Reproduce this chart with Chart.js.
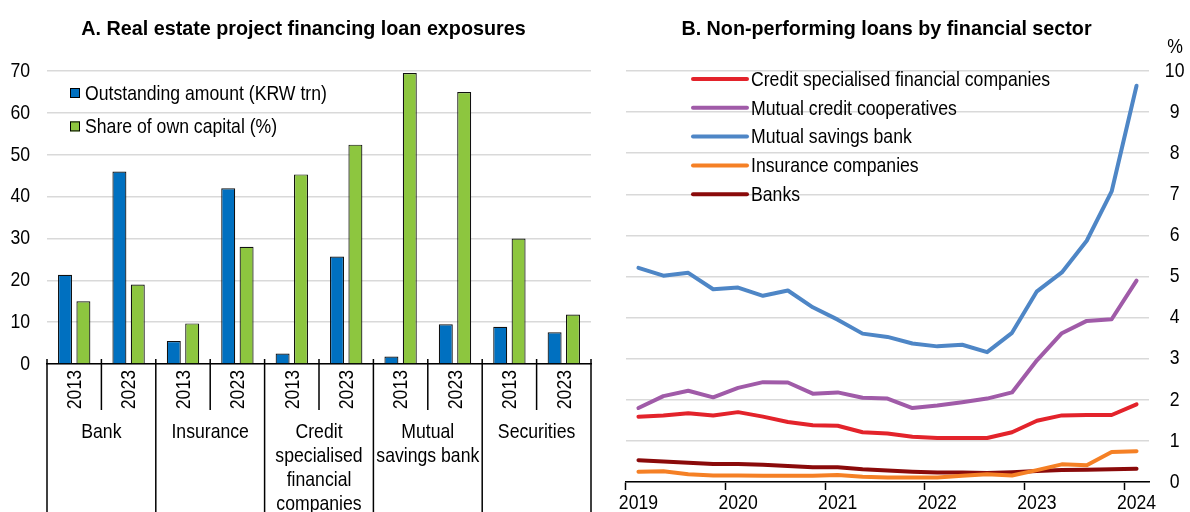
<!DOCTYPE html>
<html>
<head>
<meta charset="utf-8">
<script src="https://cdn.jsdelivr.net/npm/chart.js@4.4.1/dist/chart.umd.min.js"></script>
<style>
  html, body { margin: 0; padding: 0; background: #ffffff; }
  body { width: 1190px; height: 512px; position: relative; overflow: hidden; }
  .panel { position: absolute; top: 0; width: 607px; height: 512px; }
  #wrapA { left: 0; }
  #wrapB { left: 583px; }
</style>
</head>
<body>
<div class="panel" id="wrapA"><canvas id="chartA" width="607" height="512"></canvas></div>
<div class="panel" id="wrapB"><canvas id="chartB" width="607" height="512"></canvas></div>
<script>
// ---------- Panel A: real estate PF loan exposures ----------
const sectorLines = [
  ['Bank'],
  ['Insurance'],
  ['Credit', 'specialised', 'financial', 'companies'],
  ['Mutual', 'savings bank'],
  ['Securities']
];
const years = ['2013', '2023'];
const outstandingKRWtrn = [21.3, 46.0, 5.5, 42.0, 2.5, 25.7, 1.8, 9.5, 8.9, 7.6];
const shareOfCapital    = [15.0, 19.0, 9.7, 28.0, 45.3, 52.4, 69.5, 65.0, 30.0, 11.8];
const yTicksA = { min: 0, max: 70, step: 10 };

// ---------- Panel B: non-performing loans ----------
const quarters = [
  '2019-Q1','2019-Q2','2019-Q3','2019-Q4',
  '2020-Q1','2020-Q2','2020-Q3','2020-Q4',
  '2021-Q1','2021-Q2','2021-Q3','2021-Q4',
  '2022-Q1','2022-Q2','2022-Q3','2022-Q4',
  '2023-Q1','2023-Q2','2023-Q3','2023-Q4',
  '2024-Q1'
];
const creditSpecialised = [1.59, 1.62, 1.67, 1.62, 1.70, 1.59, 1.46, 1.38, 1.37, 1.21, 1.18, 1.10, 1.07, 1.07, 1.07, 1.21, 1.49, 1.62, 1.63, 1.63, 1.89];
const mutualCreditCoops = [1.80, 2.09, 2.22, 2.06, 2.29, 2.43, 2.42, 2.15, 2.18, 2.05, 2.03, 1.80, 1.86, 1.94, 2.03, 2.18, 2.96, 3.62, 3.92, 3.96, 4.90];
const mutualSavingsBank = [5.21, 5.02, 5.09, 4.69, 4.73, 4.53, 4.66, 4.25, 3.95, 3.61, 3.53, 3.37, 3.30, 3.34, 3.16, 3.63, 4.64, 5.10, 5.87, 7.07, 9.64];
const insuranceCos      = [0.25, 0.26, 0.19, 0.16, 0.16, 0.15, 0.15, 0.15, 0.17, 0.13, 0.11, 0.11, 0.11, 0.15, 0.19, 0.16, 0.29, 0.43, 0.41, 0.73, 0.75];
const banks             = [0.53, 0.50, 0.47, 0.44, 0.44, 0.42, 0.39, 0.36, 0.36, 0.31, 0.28, 0.25, 0.23, 0.23, 0.22, 0.24, 0.27, 0.29, 0.30, 0.31, 0.32];
const yTicksB = { min: 0, max: 10, step: 1 };

const FONT = "'Liberation Sans', Arial, sans-serif";

// Condensed lettering: squeeze glyphs horizontally around their anchor point
const baseFillText = CanvasRenderingContext2D.prototype.fillText;
CanvasRenderingContext2D.prototype.fillText = function (text, x, y, maxWidth) {
  const k = /bold/.test(this.font) ? 0.94 : 0.84;
  this.save();
  this.translate(x, y);
  this.scale(k, 1);
  if (maxWidth !== undefined) baseFillText.call(this, text, 0, 0, maxWidth / k);
  else baseFillText.call(this, text, 0, 0);
  this.restore();
};

Chart.defaults.font.family = FONT;
Chart.defaults.font.size = 21;
Chart.defaults.color = '#000';
Chart.defaults.animation = false;

const GRID = '#d9d9d9';

// Panel heading centred on its canvas
const panelTitle = {
  id: 'panelTitle',
  afterDraw(chart, args, opts) {
    const ctx = chart.ctx;
    ctx.save();
    ctx.font = 'bold 21px ' + FONT;
    ctx.fillStyle = '#000';
    ctx.textAlign = 'center';
    ctx.textBaseline = 'alphabetic';
    ctx.fillText(opts.text, chart.width / 2, 35);
    ctx.restore();
  }
};

// x labels for panel A: one per bar pair (sector x year)
const barLabels = [];
sectorLines.forEach(() => years.forEach(y => barLabels.push(y)));

// Two-level category axis: rotated years, sector names, separators
const sectorAxis = {
  id: 'sectorAxis',
  afterDraw(chart) {
    const xs = chart.scales.x;
    const ctx = chart.ctx;
    const n = chart.data.labels.length;
    const axisY = xs.top;
    const yearRowEnd = axisY + 46;
    ctx.save();
    ctx.strokeStyle = '#000';
    ctx.lineWidth = 1.5;
    for (let k = 0; k <= n; k++) {
      let bx;
      if (k === 0) bx = xs.left;
      else if (k === n) bx = xs.right;
      else bx = (xs.getPixelForTick(k - 1) + xs.getPixelForTick(k)) / 2;
      const yEnd = (k % years.length === 0) ? chart.height : yearRowEnd;
      ctx.beginPath();
      ctx.moveTo(bx, axisY - 5);
      ctx.lineTo(bx, yEnd);
      ctx.stroke();
    }
    ctx.fillStyle = '#000';
    ctx.font = '21px ' + FONT;
    for (let i = 0; i < n; i++) {
      ctx.save();
      ctx.translate(xs.getPixelForTick(i), axisY + 6);
      ctx.rotate(-Math.PI / 2);
      ctx.textAlign = 'right';
      ctx.textBaseline = 'middle';
      ctx.fillText(chart.data.labels[i], 0, 1);
      ctx.restore();
    }
    ctx.textAlign = 'center';
    ctx.textBaseline = 'alphabetic';
    sectorLines.forEach((lines, g) => {
      const a = xs.getPixelForTick(g * years.length);
      const b = xs.getPixelForTick(g * years.length + years.length - 1);
      const cx = (a + b) / 2;
      lines.forEach((t, j) => ctx.fillText(t, cx, yearRowEnd + 28 + j * 24));
    });
    ctx.restore();
  }
};

// Legend drawn inside the plot area
const boxLegend = {
  id: 'boxLegend',
  afterDraw(chart) {
    const ctx = chart.ctx, ca = chart.chartArea;
    ctx.save();
    ctx.font = '21px ' + FONT;
    ctx.textBaseline = 'middle';
    ctx.textAlign = 'left';
    chart.data.datasets.forEach((ds, i) => {
      const x = ca.left + 23, y = ca.top + 22 + i * 33.4;
      ctx.fillStyle = ds.backgroundColor;
      ctx.fillRect(x, y - 5, 10, 10);
      ctx.strokeStyle = '#000';
      ctx.lineWidth = 1;
      ctx.strokeRect(x + 0.5, y - 4.5, 9, 9);
      ctx.fillStyle = '#000';
      ctx.fillText(ds.label, x + 15, y + 1);
    });
    ctx.restore();
  }
};

new Chart(document.getElementById('chartA'), {
  type: 'bar',
  data: {
    labels: barLabels,
    datasets: [
      { label: 'Outstanding amount (KRW trn)', data: outstandingKRWtrn, backgroundColor: '#0070C0',
        borderColor: '#111', borderWidth: 1.2, categoryPercentage: 0.676, barPercentage: 0.76 },
      { label: 'Share of own capital (%)', data: shareOfCapital, backgroundColor: '#8DC63F',
        borderColor: '#111', borderWidth: 1.2, categoryPercentage: 0.676, barPercentage: 0.76 }
    ]
  },
  options: {
    responsive: false,
    layout: { padding: { left: 0, right: 16, top: 71, bottom: 0 } },
    plugins: {
      legend: { display: false },
      tooltip: { enabled: false },
      title: { display: false },
      panelTitle: { text: 'A. Real estate project financing loan exposures' }
    },
    scales: {
      x: {
        ticks: { display: false },
        grid: { display: false },
        border: { display: true, color: '#000', width: 1.5 },
        afterFit(s) { s.height = 148; }
      },
      y: {
        min: yTicksA.min, max: yTicksA.max,
        ticks: { stepSize: yTicksA.step, padding: 17 },
        grid: { color: GRID, lineWidth: 1.5, drawTicks: false },
        border: { display: false },
        afterFit(s) { s.width = 47; }
      }
    }
  },
  plugins: [sectorAxis, boxLegend, panelTitle]
});

// Line legend inside plot area plus unit label above the right axis
const lineLegend = {
  id: 'lineLegend',
  afterDraw(chart) {
    const ctx = chart.ctx, ca = chart.chartArea;
    ctx.save();
    ctx.font = '21px ' + FONT;
    ctx.textBaseline = 'middle';
    ctx.textAlign = 'left';
    chart.data.datasets.forEach((ds, i) => {
      const x0 = ca.left + 67, x1 = ca.left + 121, y = ca.top + 8 + i * 28.8;
      ctx.strokeStyle = ds.borderColor;
      ctx.lineWidth = 4;
      ctx.lineCap = 'round';
      ctx.beginPath();
      ctx.moveTo(x0, y);
      ctx.lineTo(x1, y);
      ctx.stroke();
      ctx.fillStyle = '#000';
      ctx.fillText(ds.label, x1 + 4, y + 1);
    });
    const ys = chart.scales.y;
    ctx.textAlign = 'center';
    ctx.fillText('%', ys.left + 26, ca.top - 24);
    ctx.restore();
  }
};

const lineDs = (label, data, color) => ({
  label, data, borderColor: color, backgroundColor: color, borderWidth: 4,
  pointRadius: 0, tension: 0, borderCapStyle: 'round', borderJoinStyle: 'round', fill: false
});

new Chart(document.getElementById('chartB'), {
  type: 'line',
  data: {
    labels: quarters,
    datasets: [
      lineDs('Credit specialised financial companies', creditSpecialised, '#E3232B'),
      lineDs('Mutual credit cooperatives', mutualCreditCoops, '#A05BA8'),
      lineDs('Mutual savings bank', mutualSavingsBank, '#4E86C6'),
      lineDs('Insurance companies', insuranceCos, '#F58025'),
      lineDs('Banks', banks, '#8A0A0A')
    ]
  },
  options: {
    responsive: false,
    layout: { padding: { left: 43, right: 0, top: 71, bottom: 0 } },
    plugins: {
      legend: { display: false },
      tooltip: { enabled: false },
      title: { display: false },
      panelTitle: { text: 'B. Non-performing loans by financial sector' }
    },
    scales: {
      x: {
        type: 'category',
        offset: true,
        grid: {
          offset: true, drawOnChartArea: false, tickLength: 8, tickWidth: 1.5,
          tickColor: c => (c.index !== undefined && c.index % 4 === 0) ? '#000' : 'rgba(0,0,0,0)'
        },
        border: { display: true, color: '#000', width: 1.5 },
        ticks: {
          autoSkip: false, maxRotation: 0, minRotation: 0, padding: 1,
          callback: (v, i) => quarters[i].endsWith('Q1') ? quarters[i].slice(0, 4) : ''
        },
        afterFit(s) { s.height = 30; }
      },
      y: {
        position: 'right',
        min: yTicksB.min, max: yTicksB.max,
        ticks: { stepSize: yTicksB.step, padding: 14, crossAlign: 'center' },
        grid: { color: GRID, lineWidth: 1.5, drawTicks: false },
        border: { display: false },
        afterFit(s) { s.width = 41; }
      }
    }
  },
  plugins: [lineLegend, panelTitle]
});
</script>
</body>
</html>
